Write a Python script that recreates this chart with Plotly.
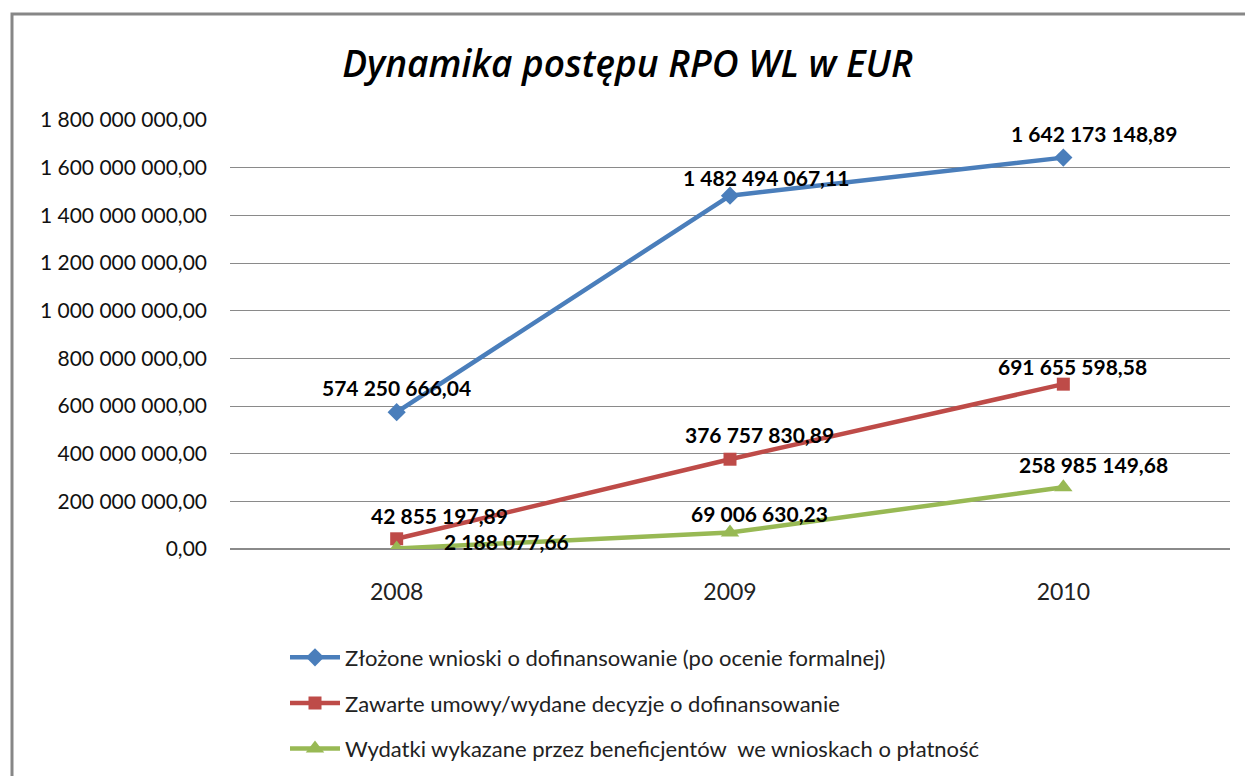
import plotly.graph_objects as go

years = ["2008", "2009", "2010"]
series_names = [
    "Złożone wnioski o dofinansowanie (po ocenie formalnej)",
    "Zawarte umowy/wydane decyzje o dofinansowanie",
    "Wydatki wykazane przez beneficjentów  we wnioskach o płatność",
]
zlozone = [574250666.04, 1482494067.11, 1642173148.89]
zawarte = [42855197.89, 376757830.89, 691655598.58]
wydatki = [2188077.66, 69006630.23, 258985149.68]
y_ticks = [0, 200e6, 400e6, 600e6, 800e6, 1000e6, 1200e6, 1400e6, 1600e6, 1800e6]

colors = ["#4A7EBB", "#BE4B48", "#98B954"]
symbols = ["diamond", "square", "triangle-up"]
msizes = [14, 13, 16]
# label offsets (pixels) per series per point
label_dx = [[0, 36, 31], [43, 29, 9], [110, 29, 30]]
label_dy = [[25, 18, 24], [23, 25, 18], [7, 19, 23]]


def pl_fmt(v):
    s = f"{v:,.2f}"
    return s.replace(",", " ").replace(".", ",")


FONT = "Lato"
fig = go.Figure()
all_series = [zlozone, zawarte, wydatki]
for i, vals in enumerate(all_series):
    fig.add_trace(go.Scatter(
        x=years, y=vals, mode="lines+markers", name=series_names[i],
        line=dict(color=colors[i], width=4.5),
        marker=dict(symbol=symbols[i], size=msizes[i], color=colors[i]),
        legendgroup=f"g{i}",
    ))
for i, vals in enumerate(all_series):
    for j, v in enumerate(vals):
        fig.add_annotation(
            x=j, y=v, xref="x", yref="y", text=pl_fmt(v), showarrow=False,
            xshift=label_dx[i][j], yshift=label_dy[i][j],
            font=dict(family=FONT, size=21, color="#000000", weight="bold"),
        )

fig.update_layout(
    width=1245, height=776,
    margin=dict(l=230, r=15, t=120, b=227, autoexpand=False),
    paper_bgcolor="white", plot_bgcolor="white",
    title=dict(text="<i>Dynamika postępu RPO WL w EUR</i>", x=0.504, xanchor="center",
               y=0.918, yanchor="middle",
               font=dict(family="Open Sans", size=37, color="#000000", weight=600)),
    showlegend=True,
    legend=dict(x=0.055, xanchor="left", y=-0.204, yanchor="top",
                tracegroupgap=14, itemwidth=50,
                font=dict(family=FONT, size=22, color="#222222")),
    xaxis=dict(type="category", range=[-0.5, 2.5], showgrid=False, showline=False,
               zeroline=False, ticks="", ticklabelstandoff=27,
               tickfont=dict(family=FONT, size=23, color="#222222")),
    yaxis=dict(range=[0, 1.8e9], tickvals=y_ticks, ticktext=[pl_fmt(v) for v in y_ticks],
               showgrid=True, gridcolor="#8a8a8a", gridwidth=1, zeroline=True,
               zerolinecolor="#8a8a8a", zerolinewidth=1.5, showline=False, ticks="",
               ticklabelstandoff=22,
               tickfont=dict(family=FONT, size=21, color="#111111")),
    shapes=[dict(type="rect", xref="paper", yref="paper", x0=-0.218, x1=1.2,
                 y0=-1.0, y1=1.247, line=dict(color="#878787", width=3),
                 fillcolor="rgba(0,0,0,0)", layer="below")],
)

fig.write_html("out.html", config={"displayModeBar": False},
               post_script="document.body.style.margin='0';")
